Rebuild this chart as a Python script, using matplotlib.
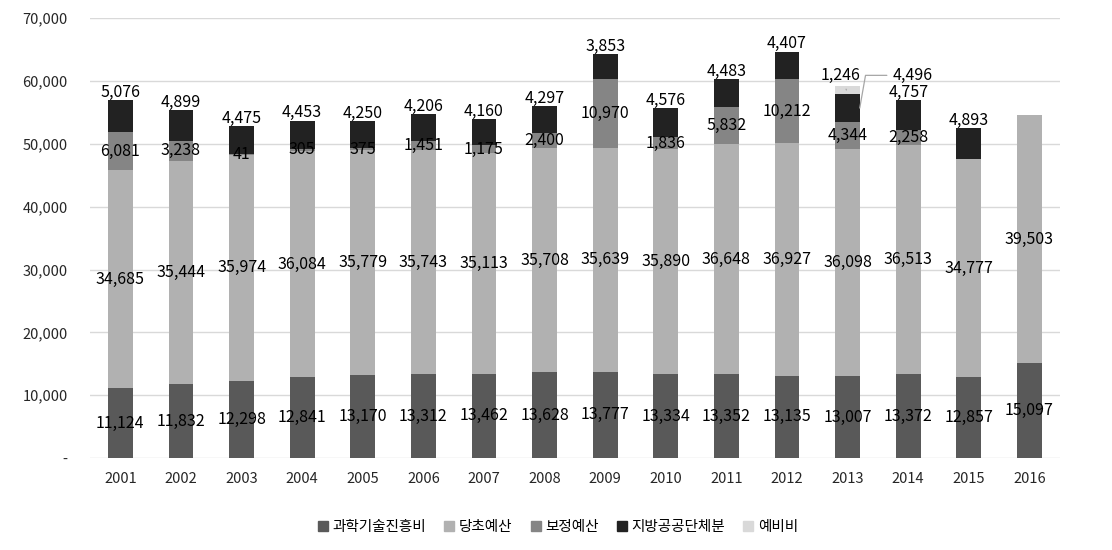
import numpy as np
import matplotlib.pyplot as plt
from matplotlib.ticker import FuncFormatter
from matplotlib.lines import Line2D

plt.rcParams['font.family'] = ['Noto Sans CJK KR', 'DejaVu Sans']

years = ['2001', '2002', '2003', '2004', '2005', '2006', '2007', '2008',
         '2009', '2010', '2011', '2012', '2013', '2014', '2015', '2016']
science = [11124, 11832, 12298, 12841, 13170, 13312, 13462, 13628,
           13777, 13334, 13352, 13135, 13007, 13372, 12857, 15097]
initial = [34685, 35444, 35974, 36084, 35779, 35743, 35113, 35708,
           35639, 35890, 36648, 36927, 36098, 36513, 34777, 39503]
supplement = [6081, 3238, 41, 305, 375, 1451, 1175, 2400,
              10970, 1836, 5832, 10212, 4344, 2258, 0, 0]
local = [5076, 4899, 4475, 4453, 4250, 4206, 4160, 4297,
         3853, 4576, 4483, 4407, 4496, 4757, 4893, 0]
reserve = [0, 0, 0, 0, 0, 0, 0, 0, 0, 0, 0, 0, 1246, 0, 0, 0]

names = ['과학기술진흥비', '당초예산', '보정예산', '지방공공단체분', '예비비']
colors = ['#595959', '#b1b1b1', '#858585', '#222222', '#d9d9d9']

fig = plt.figure(figsize=(11.12, 5.5), dpi=100)
ax = fig.add_axes([0.081, 0.167, 0.872, 0.8])

x = np.arange(len(years))
w = 0.41
series = [science, initial, supplement, local, reserve]
bottom = np.zeros(len(years))
bars = []
for vals, c in zip(series, colors):
    v = np.array(vals, dtype=float)
    ax.bar(x, v, w, bottom=bottom, color=c, zorder=3)
    bars.append((v, bottom.copy()))
    bottom = bottom + v

fs = 11.5
# labels: first three centered in segment
for k in range(3):
    v, b0 = bars[k]
    for i in range(len(years)):
        if v[i] > 0:
            ax.text(x[i], b0[i] + v[i] / 2, f'{int(v[i]):,}', ha='center', va='center',
                    fontsize=fs, color='black', zorder=5)
# local: above bar top
v, b0 = bars[3]
for i in range(len(years)):
    if v[i] > 0 and reserve[i] == 0:
        ax.text(x[i], b0[i] + v[i] - 100, f'{int(v[i]):,}', ha='center', va='bottom',
                fontsize=fs, color='black', zorder=5)

# 2013 callouts
i = years.index('2013')
vr, br = bars[4]
ax.annotate(f'{int(vr[i]):,}', xy=(x[i] - 0.02, br[i] + vr[i] * 0.5),
            xytext=(x[i] - 0.12, 60900), ha='center', va='center', fontsize=fs,
            arrowprops=dict(arrowstyle='-', color='#a6a6a6', lw=0.9, shrinkA=2, shrinkB=0),
            zorder=5)
vl, bl = bars[3]
ax.annotate(f'{int(vl[i]):,}', xy=(x[i] + 0.2, bl[i] + vl[i] * 0.5),
            xytext=(x[i] + 1.07, 60900), ha='center', va='center', fontsize=fs,
            arrowprops=dict(arrowstyle='-', color='#a6a6a6', lw=0.9, shrinkA=2, shrinkB=0,
                            connectionstyle='angle,angleA=0,angleB=80,rad=0'),
            zorder=5)

ax.set_xlim(-0.5, len(years) - 0.5)
ax.set_ylim(0, 70000)
ax.set_yticks(np.arange(0, 70001, 10000))
ax.yaxis.set_major_formatter(FuncFormatter(lambda val, p: '-' if val == 0 else f'{int(val):,}'))
ax.set_xticks(x)
ax.set_xticklabels(years)
ax.tick_params(axis='both', length=0, labelsize=10.5, colors='#262626')
ax.tick_params(axis='x', pad=10)
ax.tick_params(axis='y', pad=16)
ax.grid(axis='y', color='#d9d9d9', lw=1, zorder=0)
for s in ax.spines.values():
    s.set_visible(False)

handles = [Line2D([], [], marker='s', linestyle='none', markersize=6.5,
                  markerfacecolor=c, markeredgecolor=c) for c in colors]
fig.legend(handles, names, loc='center', bbox_to_anchor=(0.5, 0.042), ncol=5,
           frameon=False, fontsize=10.5, handletextpad=0.05, columnspacing=1.0,
           handlelength=1.2)

plt.savefig('out.png', dpi=100)
